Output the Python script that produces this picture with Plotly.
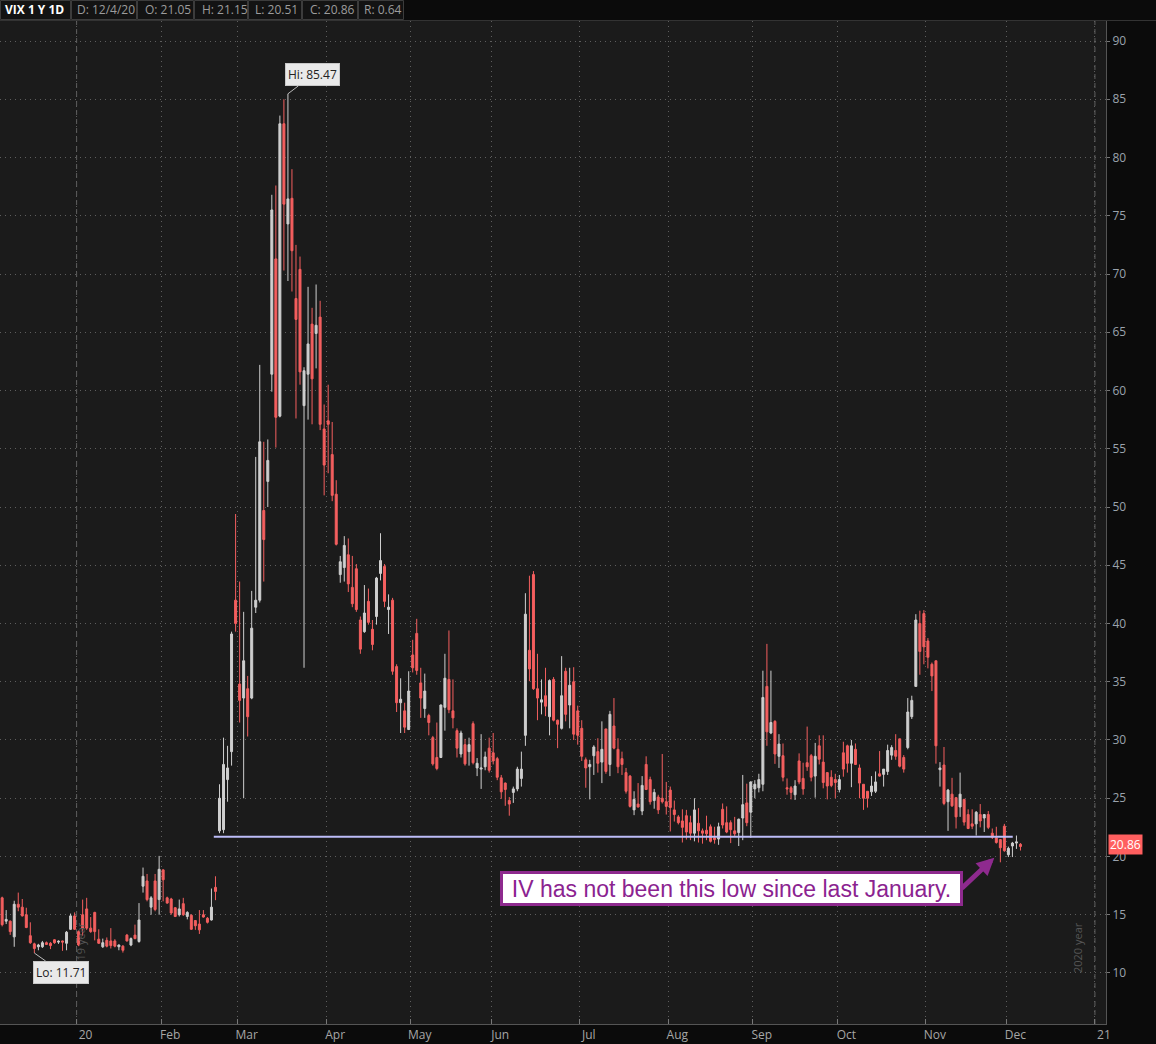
import plotly.graph_objects as go
import pandas as pd

# ---------------- data ----------------
holidays = ["2019-12-25", "2020-01-01", "2020-01-20", "2020-02-17", "2020-04-10",
            "2020-05-25", "2020-07-03", "2020-09-07", "2020-11-26", "2020-12-25", "2021-01-01"]
_bd = pd.bdate_range("2019-12-04", "2020-12-04")
dates = [d.strftime("%Y-%m-%d") for d in _bd if d.strftime("%Y-%m-%d") not in holidays]

open_ = [
    # Dec 2019
    16.45, 14.45, 14.45, 13.1, 15.9, 15.65, 15.0, 13.2, 12.5, 12.25, 12.25, 12.6, 12.55, 12.85, 12.65, 12.75, 12.55, 13.75, 14.9,
    # Jan
    13.55, 15.0, 15.5, 13.85, 15.2, 12.9, 12.25, 12.8, 12.75, 12.75, 12.25, 12.3, 13.25, 12.4, 13.25, 12.7, 17.45, 17.9, 15.65, 17.9, 16.3,
    # Feb
    18.85, 16.45, 16.35, 15.6, 15.0, 15.95, 14.85, 14.95, 14.5, 14.2, 15.0, 14.7, 14.55, 17.35, 22.2, 22.3, 26.6, 29.0, 42.0,
    # Mar
    34.8, 33.6, 34.4, 33.6, 41.4, 42.0, 49.7, 52.2, 61.4, 71.3, 57.8, 82.9, 74.3, 76.5, 67.9, 70.4, 58.7, 61.4, 65.7, 64.9, 66.3, 56.7,
    # Apr
    57.4, 54.5, 51.1, 44.2, 44.8, 45.9, 43.1, 44.7, 40.3, 39.3, 41.9, 39.5, 40.6, 44.3, 44.9, 41.2, 42.0, 36.3, 33.2, 32.5, 30.9,
    # May
    37.3, 39.15, 34.9, 32.7, 32.1, 30.2, 28.5, 28.5, 32.8, 35.2, 32.5, 30.8, 28.8, 29.6, 29.0, 31.4, 27.6, 27.5, 27.7, 29.3,
    # Jun
    28.9, 28.4, 26.75, 26.3, 24.8, 25.5, 25.8, 26.7, 30.4, 37.7, 44.2, 34.4, 33.25, 33.8, 32.0, 35.2, 31.7, 31.0, 35.9, 33.0, 35.0, 32.5,
    # Jul
    31.0, 28.3, 27.7, 28.65, 29.0, 28.1, 30.95, 27.9, 31.2, 29.2, 28.4, 27.2, 26.9, 24.0, 24.5, 23.9, 27.9, 26.6, 24.8, 25.1, 25.0, 24.7,
    # Aug
    25.7, 24.0, 23.4, 23.05, 23.5, 22.9, 22.0, 22.85, 22.2, 22.25, 22.55, 21.6, 21.5, 24.05, 22.9, 22.9, 22.2, 22.05, 23.3, 24.6, 23.8,
    # Sep
    25.8, 25.9, 26.2, 34.6, 30.6, 31.6, 28.6, 28.65, 25.9, 25.9, 25.3, 28.2, 26.7, 28.05, 28.65, 26.9, 29.5, 28.1, 27.2, 26.8, 26.6,
    # Oct
    25.75, 28.9, 29.5, 28.0, 29.2, 27.6, 26.2, 25.6, 25.55, 25.6, 27.1, 27.05, 27.3, 28.7, 29.1, 30.1, 28.5, 29.35, 32.0, 34.6, 40.0, 40.85,
    # Nov
    38.5, 36.5, 36.8, 27.45, 27.85, 24.7, 25.35, 25.05, 24.25, 24.9, 23.6, 22.8, 22.8, 23.6, 23.3, 23.6, 22.0, 21.6, 21.45, 22.6,
    # Dec
    20.15, 20.9, 21.15, 21.05,
]
high_ = [
    16.55, 15.4, 14.5, 16.2, 16.9, 16.35, 15.6, 14.35, 12.6, 12.5, 12.75, 12.7, 12.65, 12.9, 12.8, 12.78, 13.6, 15.1, 15.2,
    13.65, 16.3, 16.45, 14.8, 15.25, 13.75, 12.95, 13.05, 13.85, 12.9, 12.45, 12.4, 13.35, 13.05, 14.15, 16.0, 19.05, 18.5, 16.6, 18.5, 20.05,
    18.9, 16.55, 16.45, 15.65, 16.3, 16.45, 15.3, 15.05, 14.55, 15.4, 15.4, 14.8, 17.25, 18.3, 26.2, 30.2, 29.5, 39.3, 49.4,
    43.6, 41.0, 35.5, 42.8, 54.3, 62.2, 55.6, 55.8, 76.8, 77.6, 83.6, 85.0, 85.47, 79.0, 72.5, 71.5, 62.0, 68.9, 67.1, 69.1, 67.7, 58.8,
    60.5, 57.3, 52.3, 45.8, 47.5, 47.3, 45.8, 45.1, 40.6, 43.3, 43.0, 40.3, 44.0, 47.75, 45.1, 42.5, 42.2, 36.5, 35.3, 33.2, 35.9,
    38.6, 40.4, 36.2, 35.7, 32.25, 30.35, 31.5, 33.05, 37.4, 39.4, 35.2, 31.0, 30.8, 30.1, 30.2, 31.6, 28.45, 30.5, 29.0, 30.2,
    30.6, 28.55, 27.0, 26.35, 25.1, 26.0, 27.7, 29.0, 42.6, 44.1, 44.5, 37.4, 35.2, 36.2, 35.2, 35.4, 31.75, 37.2, 36.2, 36.2, 36.25, 32.95,
    31.7, 28.5, 28.3, 29.55, 30.15, 31.6, 30.95, 32.5, 33.6, 30.15, 29.0, 27.6, 27.0, 25.6, 26.3, 26.9, 28.6, 26.85, 25.8, 25.3, 28.8, 26.4,
    26.0, 24.8, 23.55, 24.05, 24.0, 23.5, 25.0, 24.15, 22.4, 23.5, 22.75, 22.55, 22.9, 24.55, 24.3, 23.1, 23.4, 23.25, 27.0, 26.25, 26.45,
    26.55, 27.1, 35.95, 38.25, 35.95, 31.7, 30.5, 29.7, 26.7, 26.05, 26.55, 28.85, 28.05, 31.15, 28.8, 29.75, 30.4, 30.4, 27.2, 27.4, 27.1,
    27.0, 29.85, 29.6, 30.0, 29.7, 27.9, 26.2, 25.6, 26.9, 27.3, 29.05, 27.5, 29.6, 29.55, 30.5, 30.1, 28.7, 33.6, 33.8, 40.8, 41.1, 41.15,
    38.75, 36.65, 36.8, 28.1, 29.4, 25.8, 26.75, 25.1, 27.2, 24.95, 24.05, 24.05, 23.9, 24.5, 23.65, 23.9, 22.4, 22.55, 21.5, 22.8,
    20.85, 21.25, 21.8, 21.15,
]
low_ = [
    14.0, 14.2, 13.27, 12.25, 15.3, 14.85, 13.85, 12.5, 11.71, 11.95, 12.15, 12.4, 12.05, 12.5, 12.5, 11.9, 11.95, 13.7, 13.7,
    12.3, 13.2, 13.7, 13.45, 12.8, 12.5, 12.15, 12.2, 12.1, 12.2, 11.95, 11.75, 12.7, 12.3, 12.9, 12.6, 16.9, 16.15, 15.0, 15.3, 15.0,
    16.15, 15.95, 15.0, 14.8, 14.85, 14.9, 14.6, 13.7, 13.7, 13.35, 14.75, 14.25, 14.5, 16.25, 22.0, 22.0, 24.7, 27.8, 39.3,
    31.5, 25.0, 30.3, 33.5, 40.9, 41.8, 43.6, 50.0, 59.9, 55.1, 57.7, 70.3, 69.4, 68.5, 57.6, 60.5, 36.2, 57.5, 57.1, 61.9, 56.6, 51.0,
    52.9, 50.5, 46.7, 43.5, 43.6, 42.7, 41.4, 41.0, 37.4, 39.2, 39.9, 37.7, 39.9, 43.7, 41.4, 39.1, 35.6, 32.4, 30.6, 30.6, 30.85,
    35.8, 35.6, 31.9, 31.9, 30.4, 27.8, 27.4, 28.45, 30.8, 32.3, 31.0, 28.5, 28.5, 27.8, 27.8, 27.9, 26.9, 25.8, 27.4, 27.2,
    27.9, 26.55, 24.95, 24.35, 23.5, 24.6, 25.6, 26.0, 29.5, 35.05, 34.3, 31.7, 32.2, 32.05, 30.4, 31.6, 29.3, 30.9, 31.6, 31.0, 30.0, 29.6,
    28.2, 25.9, 24.9, 27.0, 27.2, 26.3, 27.1, 26.9, 29.2, 27.15, 27.0, 25.4, 24.2, 23.55, 24.2, 23.55, 25.7, 24.45, 24.1, 23.65, 24.55, 23.6,
    22.15, 23.0, 22.75, 21.2, 21.45, 21.4, 21.3, 21.2, 21.1, 21.4, 21.2, 21.1, 21.0, 22.4, 22.0, 21.15, 21.7, 20.9, 21.4, 22.6, 21.6,
    25.0, 25.5, 25.6, 29.5, 30.5, 27.95, 27.6, 26.45, 25.3, 24.9, 24.85, 26.2, 25.3, 27.35, 26.45, 25.05, 27.9, 25.85, 24.9, 25.95, 25.0,
    25.5, 26.85, 27.2, 25.95, 27.85, 25.0, 24.0, 24.2, 25.2, 25.45, 26.85, 26.0, 27.0, 28.3, 28.3, 27.65, 27.2, 29.2, 31.8, 34.6, 35.6, 36.5,
    36.15, 34.2, 27.97, 26.0, 24.4, 22.2, 24.25, 22.4, 23.4, 22.65, 22.35, 22.35, 21.8, 22.5, 22.1, 22.35, 21.5, 21.1, 19.5, 20.4,
    19.95, 19.95, 20.65, 20.51,
]
close_ = [
    14.15, 14.6, 13.55, 15.9, 15.65, 14.9, 13.9, 12.6, 12.1, 12.4, 12.6, 12.45, 12.35, 12.6, 12.72, 12.65, 13.5, 14.9, 13.75,
    12.4, 13.85, 13.85, 13.55, 13.55, 12.55, 12.6, 12.3, 12.35, 12.3, 12.4, 11.95, 12.75, 12.95, 12.95, 14.55, 18.3, 16.3, 16.45, 15.45, 18.9,
    18.0, 16.0, 15.15, 14.85, 15.5, 15.0, 15.2, 13.75, 14.05, 13.7, 14.8, 14.35, 15.65, 17.0, 25.0, 27.9, 27.6, 39.1, 40.0,
    33.4, 36.8, 32.0, 39.6, 42.0, 55.6, 47.2, 54.0, 75.5, 57.7, 82.9, 76.0, 76.45, 72.0, 66.1, 61.6, 61.7, 64.0, 61.0, 65.6, 57.1, 53.6,
    57.1, 51.0, 46.8, 45.3, 46.7, 43.4, 41.7, 41.2, 37.8, 40.9, 40.1, 38.2, 43.9, 45.4, 41.9, 41.4, 35.9, 33.2, 33.5, 31.1, 34.2,
    36.2, 35.97, 33.6, 34.2, 31.5, 27.95, 27.55, 33.0, 35.3, 32.6, 31.9, 29.3, 30.6, 27.95, 29.6, 28.05, 28.0, 27.6, 28.55, 27.4,
    28.2, 26.8, 25.55, 25.75, 24.5, 25.8, 27.5, 27.5, 40.8, 36.1, 34.4, 33.6, 33.45, 32.9, 35.1, 31.7, 31.35, 33.8, 32.2, 34.7, 30.5, 30.4,
    28.6, 27.6, 27.9, 29.4, 28.0, 29.2, 27.3, 32.2, 29.3, 27.7, 27.9, 25.6, 24.3, 24.9, 24.25, 26.1, 25.75, 24.7, 25.5, 24.0, 24.7, 24.3,
    24.2, 23.6, 22.9, 22.5, 22.1, 22.0, 24.0, 22.2, 22.0, 21.95, 21.3, 21.45, 22.55, 22.7, 22.1, 22.3, 21.95, 23.2, 24.45, 22.9, 26.4,
    26.2, 26.6, 33.65, 30.7, 31.5, 28.8, 29.65, 26.8, 25.8, 25.5, 26.05, 26.4, 25.8, 27.7, 26.8, 28.6, 28.35, 26.35, 26.05, 26.1, 26.35,
    26.6, 27.5, 28.0, 29.5, 27.9, 26.3, 25.0, 25.0, 26.05, 26.4, 26.9, 27.5, 29.1, 29.35, 28.6, 27.75, 27.5, 32.4, 33.4, 40.3, 37.6, 38.0,
    37.1, 35.5, 29.5, 27.6, 24.55, 25.7, 24.35, 23.4, 25.35, 22.95, 22.4, 22.6, 23.8, 23.05, 23.6, 22.5, 21.65, 21.2, 20.75, 20.5,
    20.7, 21.15, 21.25, 20.86,
]

month_ticks = ["2020-01-02", "2020-02-03", "2020-03-02", "2020-04-01", "2020-05-01", "2020-06-01",
               "2020-07-01", "2020-08-03", "2020-09-01", "2020-10-01", "2020-11-02", "2020-12-01", "2021-01-04"]
month_labels = ["20", "Feb", "Mar", "Apr", "May", "Jun", "Jul", "Aug", "Sep", "Oct", "Nov", "Dec", "21"]
y_ticks = list(range(10, 95, 5))

support_level = 21.7
hi_value, lo_value, last_close = 85.47, 11.71, 20.86
header_cells = ["VIX 1 Y 1D", "D: 12/4/20", "O: 21.05", "H: 21.15", "L: 20.51", "C: 20.86", "R: 0.64"]

# ---------------- styling ----------------
UP = "#cfcfcf"
DOWN = "#f45f5f"
PLOT_BG = "#1b1b1b"
PAPER_BG = "#0b0b0b"
GRID = "#5e5e5e"
GRID_DASH = "1px,4px"
TXT = "#a6a6a6"
PURPLE = "#8e2a8e"
W, H = 1156, 1044
ML, MR, MT, MB = 0, 50, 21, 20
PW, PH = W - ML - MR, H - MT - MB


def px_x(px):
    return (px - ML) / PW


def px_y(py):
    return (H - MB - py) / PH


fig = go.Figure(go.Candlestick(
    x=dates, open=open_, high=high_, low=low_, close=close_,
    xperiod=86400000, xperiodalignment="middle",
    increasing=dict(line=dict(color=UP, width=1), fillcolor=UP),
    decreasing=dict(line=dict(color=DOWN, width=1), fillcolor=DOWN),
    whiskerwidth=0, showlegend=False, hoverinfo="x+y",
))

shapes = []
# year separators
for d in ["2020-01-02", "2021-01-04"]:
    shapes.append(dict(type="line", xref="x", yref="paper", x0=d, x1=d, y0=0, y1=1,
                       line=dict(color="#5e5e5e", width=1, dash="5px,4px"), layer="below"))
# support line
shapes.append(dict(type="line", xref="x", yref="y", x0="2020-02-21 02:00", x1="2020-12-02 14:00",
                   y0=support_level, y1=support_level, line=dict(color="#bdbdf8", width=2)))
# header cells
cell_edges = [0, 71, 137, 194, 248, 302, 358, 404]
for i in range(len(cell_edges) - 1):
    shapes.append(dict(type="rect", xref="paper", yref="paper",
                       x0=px_x(cell_edges[i] + 0.5), x1=px_x(cell_edges[i + 1] - 0.5),
                       y0=px_y(19.5), y1=px_y(0.5),
                       line=dict(color="#3c3c3c", width=1), fillcolor="#131313", layer="above"))
shapes.append(dict(type="line", xref="paper", yref="paper", x0=0, x1=px_x(W), y0=px_y(20.5), y1=px_y(20.5),
                   line=dict(color="#333333", width=1)))

annotations = []
text_x = [3, 75, 143, 200, 253, 308, 362]
for i, t in enumerate(header_cells):
    annotations.append(dict(xref="paper", yref="paper", x=px_x(text_x[i]), y=px_y(10),
                            xanchor="left", yanchor="middle", showarrow=False,
                            text=("<b>%s</b>" % t) if i == 0 else t,
                            font=dict(family="Open Sans", size=12, color="#ffffff" if i == 0 else "#9c9c9c")))

# year texts
annotations.append(dict(xref="paper", yref="paper", x=px_x(71), y=px_y(975), text="2019 year",
                        textangle=-90, showarrow=False, font=dict(family="Open Sans", size=11, color="#555555")))
annotations.append(dict(xref="paper", yref="paper", x=px_x(1087), y=px_y(975), text="2020 year",
                        textangle=-90, showarrow=False, font=dict(family="Open Sans", size=11, color="#555555")))

# Hi / Lo labels
annotations.append(dict(x="2020-03-18 12:00", y=hi_value, xref="x", yref="y", text="Hi: %.2f" % hi_value,
                        showarrow=True, arrowhead=0, arrowwidth=1, arrowcolor="#bbbbbb", ax=25, ay=-19,
                        bgcolor="#e9e9e9", bordercolor="#c8c8c8", borderwidth=1, borderpad=2,
                        font=dict(family="Open Sans", size=12, color="#222222")))
annotations.append(dict(x="2019-12-16 12:00", y=lo_value, xref="x", yref="y", text="Lo: %.2f" % lo_value,
                        showarrow=True, arrowhead=0, arrowwidth=1, arrowcolor="#bbbbbb", ax=27, ay=19,
                        bgcolor="#e9e9e9", bordercolor="#c8c8c8", borderwidth=1, borderpad=2,
                        font=dict(family="Open Sans", size=12, color="#222222")))

# last price tag
annotations.append(dict(xref="paper", yref="y", x=1.0, y=last_close, xanchor="left", yanchor="middle",
                        xshift=2, yshift=2, text="%.2f" % last_close, showarrow=False, bgcolor="#ff5f5f",
                        borderpad=1, font=dict(family="Open Sans", size=12, color="#ffffff")))

# callout
annotations.append(dict(xref="paper", yref="paper", x=px_x(731.5), y=px_y(905.5),
                        text="IV has not been this low since last January.", showarrow=False,
                        width=455, height=27, borderpad=1, borderwidth=3, bordercolor=PURPLE, bgcolor="#ffffff",
                        font=dict(family="Liberation Sans, Arial", size=23, color="#8b2390")))
annotations.append(dict(x="2020-11-25", y=19.9, xref="x", yref="y", text="", showarrow=True,
                        arrowhead=2, arrowsize=0.7, arrowwidth=5, arrowcolor=PURPLE, ax=-34, ay=32))

fig.update_layout(
    width=W, height=H, margin=dict(l=ML, r=MR, t=MT, b=MB),
    paper_bgcolor=PAPER_BG, plot_bgcolor=PLOT_BG,
    font=dict(family="Open Sans", color=TXT, size=12),
    shapes=shapes, annotations=annotations, showlegend=False,
    xaxis=dict(
        type="date", range=["2019-12-03 23:10", "2021-01-06 18:00"],
        rangebreaks=[dict(bounds=["sat", "mon"]), dict(values=holidays)],
        rangeslider=dict(visible=False),
        tickmode="array", tickvals=month_ticks, ticktext=month_labels,
        ticks="inside", ticklen=5, tickcolor="#777777", ticklabelshift=9,
        showgrid=True, gridcolor=GRID, griddash=GRID_DASH, gridwidth=1,
        showline=True, linecolor="#555555", zeroline=False,
        tickfont=dict(size=12, color=TXT, family="Open Sans"),
    ),
    yaxis=dict(
        side="right", range=[5.62, 91.72], tickmode="array", tickvals=y_ticks,
        ticks="outside", ticklen=3, tickcolor="#777777",
        showgrid=True, gridcolor=GRID, griddash=GRID_DASH, gridwidth=1,
        showline=True, linecolor="#555555", zeroline=False,
        tickfont=dict(size=12, color="#9aa3ad", family="Open Sans"),
    ),
)

fig.write_html("out.html", config={"displayModeBar": False})

# remove the browser's default page margin so the figure fills the window exactly
with open("out.html", "r", encoding="utf-8") as f:
    html = f.read()
html = html.replace("<head>", "<head><style>html,body{margin:0;padding:0;overflow:hidden;background:#0b0b0b;}</style>", 1)
with open("out.html", "w", encoding="utf-8") as f:
    f.write(html)
